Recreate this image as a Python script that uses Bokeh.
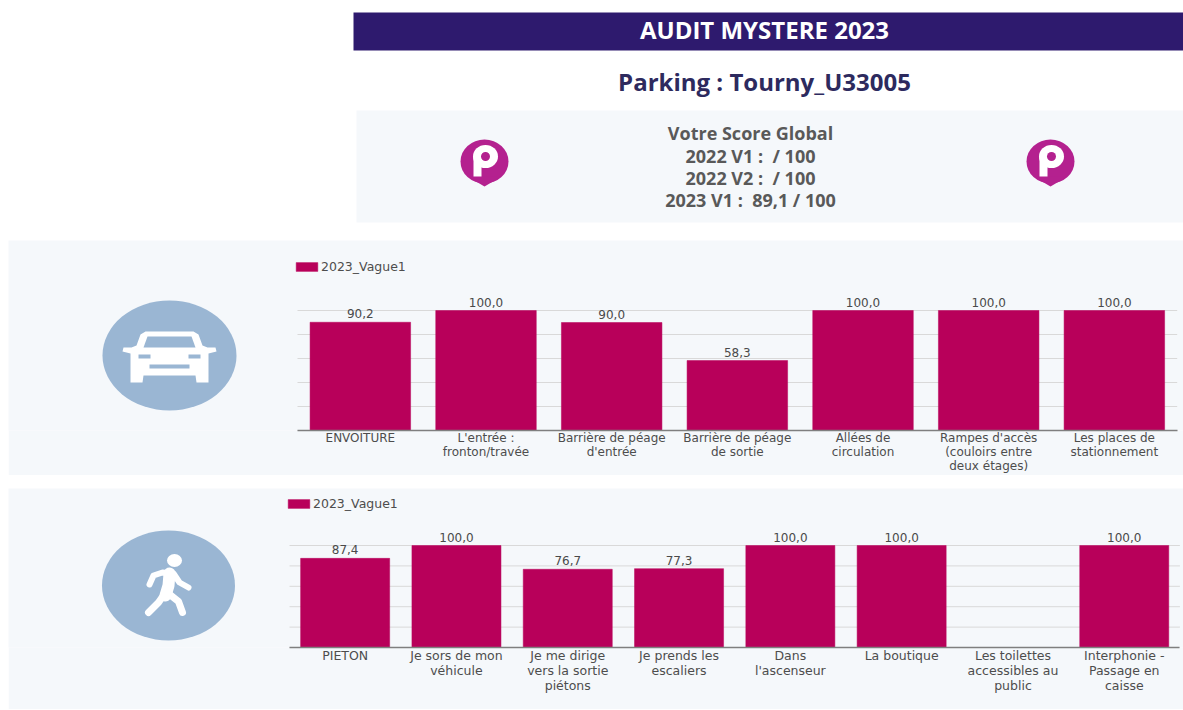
from bokeh.plotting import figure
from bokeh.layouts import column, row
from bokeh.models import Range1d, FixedTicker, Legend, LegendItem, Spacer, ColumnDataSource
from bokeh.core.properties import value
from bokeh.embed import file_html
from bokeh.resources import INLINE

title_text = "AUDIT MYSTERE 2023"
parking_text = "Parking : Tourny_U33005"
score_lines = ["Votre Score Global", "2022 V1 :\u00a0 / 100", "2022 V2 :\u00a0 / 100", "2023 V1 :\u00a0 89,1 / 100"]
series_name = "2023_Vague1"

car_categories = ["ENVOITURE", "L'entrée :\nfronton/travée", "Barrière de péage\nd'entrée", "Barrière de péage\nde sortie",
                  "Allées de\ncirculation", "Rampes d'accès\n(couloirs entre\ndeux étages)", "Les places de\nstationnement"]
car_values = [90.2, 100.0, 90.0, 58.3, 100.0, 100.0, 100.0]

walk_categories = ["PIETON", "Je sors de mon\nvéhicule", "Je me dirige\nvers la sortie\npiétons", "Je prends les\nescaliers",
                   "Dans\nl'ascenseur", "La boutique", "Les toilettes\naccessibles au\npublic", "Interphonie -\nPassage en\ncaisse"]
walk_values = [87.4, 100.0, 76.7, 77.3, 100.0, 100.0, None, 100.0]
grid_ticks = [0, 20, 40, 60, 80, 100]

PANEL = "#f5f8fb"
BAR = "#b8005a"
ICON = "#9ab6d3"
PIN = "#b4218f"
BAND = "#2e1a6e"
RIGHT = 1183
PX = dict(x_range_name="px", y_range_name="px")


def mirror(cx, half):
    return ([cx - a for a, _ in half] + [cx + a for a, _ in reversed(half)],
            [b for _, b in half] + [b for _, b in reversed(half)])


def car_icon(p, cx, cy):
    p.ellipse([cx], [cy], width=134, height=110, fill_color=ICON, line_color=None, **PX)
    xs, ys = mirror(cx, [(24, 331), (29, 334), (33, 345), (38, 347), (46, 347), (47, 351), (39, 353),
                         (39, 382), (27, 382), (26, 375)])
    p.patch(xs, ys, fill_color="white", line_color=None, **PX)
    xs, ys = mirror(cx, [(22, 336), (26, 347), (0, 347)])
    p.patch(xs, ys, fill_color=ICON, line_color=None, **PX)
    p.hbar(y=[cy + 1, cy + 1], left=[cx - 31, cx + 19], right=[cx - 19, cx + 31], height=4, fill_color=ICON, line_color=None, **PX)
    p.hbar(y=[cy + 11], left=[cx - 20], right=[cx + 20], height=4, fill_color=ICON, line_color=None, **PX)


def walker_icon(p, cx, cy):
    p.ellipse([cx], [cy], width=133, height=110, fill_color=ICON, line_color=None, **PX)
    dx, dy = cx - 168, cy - 585
    p.ellipse([174 + dx], [560 + dy], width=15, height=13, fill_color="white", line_color=None, **PX)
    paths = [
        ([149, 153, 162, 173, 179, 188], [584, 575, 572, 573, 582, 587], 6),
        ([169, 168, 165], [573, 585, 595], 12),
        ([165, 158, 148], [592, 602, 612], 7),
        ([168, 178, 182], [593, 601, 612], 7),
    ]
    for xs, ys, w in paths:
        p.line([v + dx for v in xs], [v + dy for v in ys], line_color="white", line_width=w,
               line_cap="round", line_join="round", **PX)


def pin_icon(p, cx, cy):
    p.ellipse([cx], [cy - 2], width=48, height=44, fill_color=PIN, line_color=None)
    p.patch([cx - 17, cx, cx + 17], [cy + 13, cy + 23, cy + 13], fill_color=PIN, line_color=None)
    p.ellipse([cx + 1], [cy - 7], width=25, height=23, fill_color="white", line_color=None)
    p.vbar(x=[cx - 7], top=[cy - 7], bottom=[cy + 13], width=8, fill_color="white", line_color=None)
    p.ellipse([cx + 1], [cy - 7], width=9, height=9, fill_color=PIN, line_color=None)


def bar_chart(categories, values, x0, y0, y1, base, top, first, pitch, legend_x, legend_y, label_px):
    unit = (base - top) / 100
    n = len(categories)
    p = figure(width=RIGHT - x0, height=y1 - y0, frame_height=base - y0, frame_width=RIGHT - x0,
               x_range=Range1d(-0.5 - (first - x0) / pitch, -0.5 + (RIGHT - first) / pitch),
               y_range=Range1d(0, (base - y0) / unit),
               output_backend="svg", toolbar_location=None, outline_line_color=None,
               background_fill_color=PANEL, border_fill_color=PANEL,
               min_border_left=0, min_border_right=0, min_border_top=0, min_border_bottom=y1 - base)
    p.extra_x_ranges["px"] = Range1d(x0, RIGHT)
    p.extra_y_ranges["px"] = Range1d(base, y0)
    p.segment(x0=[-0.5] * len(grid_ticks), x1=[n - 0.5] * len(grid_ticks), y0=grid_ticks, y1=grid_ticks,
              line_color="#d9d9d9", line_width=1)
    idx = [i for i, v in enumerate(values) if v is not None]
    src = ColumnDataSource(dict(x=idx, top=[values[i] for i in idx],
                                label=[f"{values[i]:.1f}".replace(".", ",") for i in idx]))
    bars = p.vbar(x="x", top="top", bottom=0, width=0.8, source=src, fill_color=BAR, line_color=BAR, line_width=0.5)
    p.text(x="x", y="top", text="label", source=src, text_align="center", text_baseline="bottom", y_offset=-4,
           text_font=value("DejaVu Sans"), text_font_size="12px", text_color="#4a4a4a")

    p.xaxis.bounds = (-0.5, n - 0.5)
    p.xaxis.ticker = FixedTicker(ticks=list(range(n)))
    p.xaxis.major_label_overrides = {i: c for i, c in enumerate(categories)}
    p.xaxis.major_label_text_font = "DejaVu Sans"
    p.xaxis.major_label_text_font_size = label_px
    p.xaxis.major_label_text_color = "#4d4d4d"
    p.xaxis.major_label_text_line_height = 1.0
    p.xaxis.major_label_standoff = 0
    p.xaxis.major_tick_line_color = None
    p.xaxis.major_tick_out = 0
    p.xaxis.major_tick_in = 0
    p.xaxis.minor_tick_line_color = None
    p.xaxis.axis_line_color = "#7f7f7f"
    p.xaxis.axis_line_width = 1.5
    p.yaxis.visible = False
    p.grid.visible = False

    legend = Legend(items=[LegendItem(label=series_name, renderers=[bars])], location=(legend_x - x0, base - legend_y),
                    orientation="horizontal", background_fill_alpha=0, border_line_color=None, margin=0, padding=0,
                    glyph_width=27, glyph_height=11, label_text_font="DejaVu Sans", label_text_font_size="12.5px",
                    label_text_color="#4d4d4d", label_standoff=1)
    p.add_layout(legend, "center")
    return p


# Header
head = figure(width=RIGHT, height=240, x_range=Range1d(0, RIGHT), y_range=Range1d(240, 0),
              output_backend="svg", toolbar_location=None, x_axis_type=None, y_axis_type=None,
              min_border=0, outline_line_color=None, background_fill_color="white", border_fill_color="white")
head.grid.visible = False
head.quad(left=[353], right=[RIGHT], top=[12], bottom=[50], fill_color=BAND, line_color=None)
head.quad(left=[356], right=[RIGHT], top=[110], bottom=[222], fill_color=PANEL, line_color=None)
head.text([764], [29], text=[title_text], text_align="center", text_baseline="middle", text_color="white",
          text_font=value("Open Sans"), text_font_style="bold", text_font_size="24px")
head.text([764], [81], text=[parking_text], text_align="center", text_baseline="middle", text_color="#2d2a5e",
          text_font=value("Open Sans"), text_font_style="bold", text_font_size="24px")
head.text([750] * 4, [132, 155, 177, 199], text=score_lines, text_align="center", text_baseline="middle", text_color="#595959",
          text_font=value("Open Sans"), text_font_style="bold", text_font_size="18px")
pin_icon(head, 484, 163)
pin_icon(head, 1050, 163)

# Panels
car_chart = bar_chart(car_categories, car_values, 8, 240, 472, 430, 310, 297, 125.67, 293, 274, "12px")
car_icon(car_chart, 169, 355)

walk_chart = bar_chart(walk_categories, walk_values, 8, 488, 709, 647, 545, 289, 111.3, 285, 511, "12.5px")
walker_icon(walk_chart, 168, 585)

page = column(head, row(Spacer(width=8), car_chart, spacing=0), Spacer(height=13),
              row(Spacer(width=8), walk_chart, spacing=0), spacing=0)
open("out.html", "w").write(file_html(page, INLINE))
